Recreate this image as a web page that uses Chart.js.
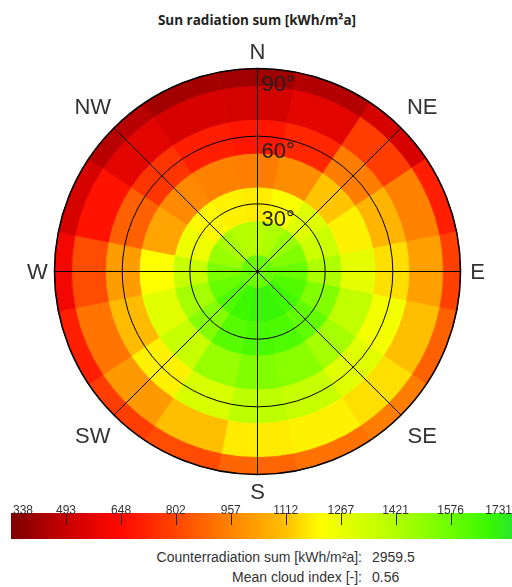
<!DOCTYPE html>
<html>
<head>
<meta charset="utf-8">
<script src="https://cdn.jsdelivr.net/npm/chart.js@4.4.0/dist/chart.umd.min.js"></script>
<style>
    body { margin: 0; width: 512px; height: 587px; background: #fff; position: relative; overflow: hidden; font-family: "Liberation Sans", Arial, sans-serif; }
    #title { position: absolute; top: 11px; left: 0; width: 514px; text-align: center; font: bold 13.5px "Open Sans", sans-serif; color: #222; }
    #polar { position: absolute; left: 0; top: 0; }
    #scale { position: absolute; left: 0; top: 500px; }
    .lbl { position: absolute; right: 150px; font-size: 14px; color: #333; text-align: right; white-space: nowrap; }
    .val { position: absolute; left: 372px; font-size: 14px; color: #333; white-space: nowrap; }
</style>
</head>
<body>
<div id="title">Sun radiation sum [kWh/m²a]</div>
<canvas id="polar" width="512" height="500"></canvas>
<canvas id="scale" width="512" height="42"></canvas>
<div class="lbl" style="top:549px">Counterradiation sum [kWh/m²a]:</div>
<div class="val" style="top:549px">2959.5</div>
<div class="lbl" style="top:569px">Mean cloud index [-]:</div>
<div class="val" style="top:569px">0.56</div>

<script>
// azimuth sectors, clockwise from north
const azimuths = ['N', 'NNE', 'NE', 'ENE', 'E', 'ESE', 'SE', 'SSE', 'S', 'SSW', 'SW', 'WSW', 'W', 'WNW', 'NW', 'NNW'];
// surface tilt of each ring [deg], outer to inner
const tilts = [90, 75, 60, 45, 30, 15, 0];

// radiation sum per cell [kWh/m²a]
const ring90 = [410, 450, 530, 700, 790, 870, 940, 910, 880, 820, 780, 700, 610, 530, 460, 420];
const ring75 = [520, 570, 780, 950, 1030, 1110, 1160, 1190, 1180, 1110, 1010, 920, 820, 670, 570, 530];
const ring60 = [680, 720, 940, 1080, 1160, 1240, 1290, 1360, 1390, 1320, 1190, 1100, 1020, 870, 760, 700];
const ring45 = [940, 980, 1120, 1190, 1280, 1380, 1450, 1510, 1530, 1480, 1360, 1290, 1210, 1040, 970, 950];
const ring30 = [1180, 1220, 1300, 1350, 1430, 1530, 1600, 1640, 1650, 1620, 1520, 1450, 1360, 1250, 1200, 1190];
const ring15 = [1400, 1430, 1480, 1530, 1580, 1630, 1670, 1690, 1690, 1680, 1640, 1590, 1540, 1480, 1440, 1410];
const ring0 = [1580];

// colour bar
const scaleTicks = [338, 493, 648, 802, 957, 1112, 1267, 1421, 1576, 1731];
const scaleMin = 338;
const scaleMax = 1749;

// grid
const gridTilts = [30, 60, 90];
const compass = ['N', 'NE', 'E', 'SE', 'S', 'SW', 'W', 'NW'];

const rampValues = [338, 493, 648, 802, 957, 1112, 1210, 1421, 1576, 1680, 1749];
const rampColors = ['#7d0000', '#c80000', '#ff0a00', '#ff4500', '#ff8400', '#ffc000', '#ffff00', '#b2ff00', '#6cff00', '#3cf800', '#2ae82a'];

function hexToRgb(h) {
    return [parseInt(h.substr(1, 2), 16), parseInt(h.substr(3, 2), 16), parseInt(h.substr(5, 2), 16)];
}

function valueColor(v) {
    if (v <= rampValues[0]) return rampColors[0];
    for (let i = 1; i < rampValues.length; i++) {
        if (v <= rampValues[i]) {
            const t = (v - rampValues[i - 1]) / (rampValues[i] - rampValues[i - 1]);
            const a = hexToRgb(rampColors[i - 1]);
            const b = hexToRgb(rampColors[i]);
            const c = a.map((x, k) => Math.round(x + (b[k] - x) * t));
            return `rgb(${c[0]},${c[1]},${c[2]})`;
        }
    }
    return rampColors[rampColors.length - 1];
}

const rings = [ring90, ring75, ring60, ring45, ring30, ring15, ring0];

const datasets = rings.map((vals, i) => {
    const cols = vals.map(valueColor);
    // outer ring and centre disc only span half a tilt step
    const w = (i === 0 || i === rings.length - 1) ? 0.5 : 1;
    return {
        label: tilts[i] + '°',
        data: vals.map(() => 1),
        backgroundColor: cols,
        borderColor: cols,
        borderWidth: 1,
        weight: w,
        rotation: -180 / vals.length
    };
});

// grid circles, spokes and labels on top of the cells
const polarGrid = {
    id: 'polarGrid',
    afterDatasetsDraw(chart) {
        const arc = chart.getDatasetMeta(0).data[0];
        const cx = arc.x, cy = arc.y, R = arc.outerRadius;
        const ctx = chart.ctx;
        ctx.save();
        ctx.strokeStyle = '#000';

        // spokes
        ctx.lineWidth = 1;
        compass.forEach((c, i) => {
            const a = i * Math.PI / 4;
            ctx.beginPath();
            ctx.moveTo(cx - R * Math.sin(a), cy + R * Math.cos(a));
            ctx.lineTo(cx + R * Math.sin(a), cy - R * Math.cos(a));
            ctx.stroke();
        });

        // tilt circles
        gridTilts.forEach(t => {
            ctx.lineWidth = t === 90 ? 1.6 : 1;
            ctx.beginPath();
            ctx.arc(cx, cy, R * t / 90, 0, Math.PI * 2);
            ctx.stroke();
        });

        // tilt labels
        ctx.fillStyle = '#222';
        ctx.font = '22px "Liberation Sans", Arial, sans-serif';
        ctx.textAlign = 'left';
        ctx.textBaseline = 'alphabetic';
        gridTilts.forEach(t => {
            ctx.fillText(t + '°', cx + 4, cy - R * t / 90 + 22);
        });

        // compass labels
        ctx.fillStyle = '#333';
        ctx.textAlign = 'center';
        ctx.textBaseline = 'middle';
        compass.forEach((c, i) => {
            const a = i * Math.PI / 4;
            const d = c.length > 1 ? R + 30 : R + 17;
            ctx.fillText(c, cx + d * Math.sin(a), cy - d * Math.cos(a) + 1);
        });
        ctx.restore();
    }
};

new Chart(document.getElementById('polar'), {
    type: 'doughnut',
    data: { labels: azimuths, datasets: datasets },
    options: {
        responsive: false,
        animation: false,
        cutout: 0,
        hoverOffset: 0,
        layout: { padding: { left: 54, right: 51, top: 68, bottom: 25 } },
        plugins: { legend: { display: false }, tooltip: { enabled: false } },
        events: []
    },
    plugins: [polarGrid]
});

// colour bar with ticks and labels
const barTicks = {
    id: 'barTicks',
    afterDatasetsDraw(chart) {
        const x = chart.scales.x;
        const area = chart.chartArea;
        const ctx = chart.ctx;
        ctx.save();
        ctx.strokeStyle = '#222';
        ctx.lineWidth = 1;
        scaleTicks.forEach((v, i) => {
            if (i === 0 || i === scaleTicks.length - 1) return;
            const px = Math.round(x.getPixelForValue(v)) + 0.5;
            ctx.beginPath();
            ctx.moveTo(px, area.top);
            ctx.lineTo(px, area.top + 12);
            ctx.stroke();
        });
        ctx.fillStyle = '#333';
        ctx.font = '12px "Liberation Sans", Arial, sans-serif';
        ctx.textBaseline = 'alphabetic';
        scaleTicks.forEach(v => {
            const txt = String(v);
            const w = ctx.measureText(txt).width;
            let px = x.getPixelForValue(v) - w / 2;
            px = Math.max(area.left + 2, Math.min(px, chart.width - w));
            ctx.fillText(txt, px, area.top + 1);
        });
        ctx.restore();
    }
};

new Chart(document.getElementById('scale'), {
    type: 'bar',
    data: {
        labels: ['scale'],
        datasets: [{
            data: [[scaleMin, scaleMax]],
            borderWidth: 0,
            barPercentage: 1,
            categoryPercentage: 1,
            backgroundColor: (c) => {
                const ch = c.chart;
                if (!ch.chartArea) return '#ff0000';
                const x = ch.scales.x;
                const g = ch.ctx.createLinearGradient(x.getPixelForValue(scaleMin), 0, x.getPixelForValue(scaleMax), 0);
                rampValues.forEach((v, i) => {
                    g.addColorStop((v - scaleMin) / (scaleMax - scaleMin), rampColors[i]);
                });
                return g;
            }
        }]
    },
    options: {
        indexAxis: 'y',
        responsive: false,
        animation: false,
        layout: { padding: { left: 11, right: 0, top: 13, bottom: 3 } },
        scales: {
            x: { type: 'linear', min: scaleMin, max: scaleMax, display: false },
            y: { display: false }
        },
        plugins: { legend: { display: false }, tooltip: { enabled: false } },
        events: []
    },
    plugins: [barTicks]
});
</script>
</body>
</html>
